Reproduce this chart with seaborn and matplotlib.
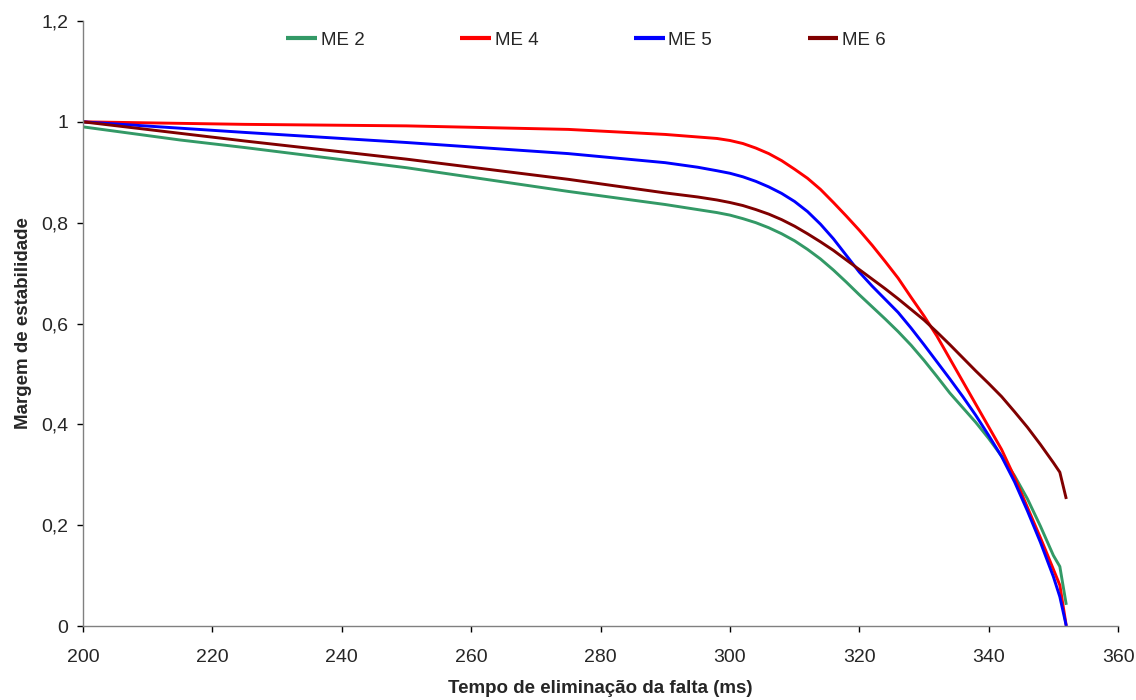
import numpy as np
import pandas as pd
import matplotlib
matplotlib.use("Agg")
import matplotlib.pyplot as plt
import seaborn as sns

# ---- data ----
x_me2 = [200, 215, 225, 250, 275, 290, 295, 298, 300, 302, 304, 306, 308, 310, 312, 314, 316, 318, 320, 322,
         324, 326, 328, 330, 332, 334, 336, 338, 340, 342, 344, 346, 348, 350, 351, 352]
y_me2 = [0.99, 0.964, 0.949, 0.909, 0.862, 0.836, 0.826, 0.820, 0.815, 0.808, 0.800, 0.790, 0.778, 0.764, 0.747,
         0.728, 0.706, 0.682, 0.657, 0.633, 0.609, 0.584, 0.557, 0.527, 0.495, 0.462, 0.433, 0.404, 0.372, 0.337,
         0.298, 0.252, 0.198, 0.140, 0.118, 0.042]

x_me4 = [200, 225, 250, 275, 290, 295, 298, 300, 302, 304, 306, 308, 310, 312, 314, 316, 318, 320, 322, 324,
         326, 328, 330, 332, 334, 336, 338, 340, 342, 344, 346, 348, 349, 351, 352]
y_me4 = [1.0, 0.995, 0.992, 0.985, 0.975, 0.970, 0.967, 0.963, 0.957, 0.948, 0.937, 0.923, 0.906, 0.888, 0.866,
         0.840, 0.813, 0.785, 0.755, 0.723, 0.690, 0.652, 0.615, 0.575, 0.530, 0.485, 0.440, 0.395, 0.350, 0.295,
         0.235, 0.175, 0.144, 0.081, 0.0]

x_me5 = [200, 225, 250, 275, 290, 295, 298, 300, 302, 304, 306, 308, 310, 312, 314, 316, 318, 320, 322, 324,
         326, 328, 330, 332, 334, 336, 338, 340, 342, 344, 346, 348, 350, 351, 352]
y_me5 = [1.0, 0.979, 0.959, 0.937, 0.919, 0.910, 0.903, 0.898, 0.891, 0.882, 0.871, 0.858, 0.842, 0.822, 0.797,
         0.768, 0.735, 0.702, 0.674, 0.648, 0.622, 0.591, 0.558, 0.524, 0.490, 0.455, 0.418, 0.378, 0.336, 0.286,
         0.228, 0.166, 0.098, 0.058, 0.0]

x_me6 = [200, 225, 250, 275, 290, 295, 298, 300, 302, 304, 306, 308, 310, 312, 314, 316, 318, 320, 322, 324,
         326, 328, 330, 332, 334, 336, 338, 340, 342, 344, 346, 348, 350, 351, 352]
y_me6 = [1.0, 0.962, 0.926, 0.886, 0.859, 0.851, 0.845, 0.840, 0.834, 0.826, 0.817, 0.806, 0.793, 0.778, 0.762,
         0.745, 0.726, 0.707, 0.688, 0.669, 0.649, 0.628, 0.607, 0.583, 0.558, 0.532, 0.506, 0.481, 0.455, 0.425,
         0.394, 0.360, 0.324, 0.305, 0.252]

series_names = ["ME 2", "ME 4", "ME 5", "ME 6"]
series_x = [x_me2, x_me4, x_me5, x_me6]
series_y = [y_me2, y_me4, y_me5, y_me6]
colors = {"ME 2": "#339966", "ME 4": "#FF0000", "ME 5": "#0000FF", "ME 6": "#800000"}

x_ticks = [200, 220, 240, 260, 280, 300, 320, 340, 360]
y_ticks = [0, 0.2, 0.4, 0.6, 0.8, 1.0, 1.2]
y_tick_labels = ["0", "0,2", "0,4", "0,6", "0,8", "1", "1,2"]

frames = []
for name, xs, ys in zip(series_names, series_x, series_y):
    frames.append(pd.DataFrame({"t": xs, "m": ys, "s": name}))
df = pd.concat(frames, ignore_index=True)

sns.set_style("ticks")
plt.rcParams["font.family"] = ["Liberation Sans", "DejaVu Sans"]

fig = plt.figure(figsize=(11.36, 7.0), dpi=100)
ax = fig.add_axes([0.0731, 0.1057, 0.9111, 0.8643])

sns.lineplot(data=df, x="t", y="m", hue="s", palette=colors, hue_order=series_names,
             sort=False, estimator=None, linewidth=2.1, ax=ax)
for ln in ax.get_lines():
    ln.set_solid_joinstyle("round")
    ln.set_solid_capstyle("butt")

ax.set_xlim(200, 360)
ax.set_ylim(0, 1.2)
ax.set_xticks(x_ticks)
ax.set_xticklabels([str(v) for v in x_ticks], fontsize=14)
ax.set_yticks(y_ticks)
ax.set_yticklabels(y_tick_labels, fontsize=14)
ax.tick_params(axis="both", direction="out", length=4.3, width=1, color="#000000")
ax.tick_params(axis="x", pad=12)
ax.tick_params(axis="y", pad=6.5)

for side in ["top", "right"]:
    ax.spines[side].set_visible(False)
for side in ["left", "bottom"]:
    ax.spines[side].set_color("#808080")
    ax.spines[side].set_linewidth(1)

ax.set_xlabel("Tempo de eliminação da falta (ms)", fontsize=13.5, fontweight="bold", labelpad=10.5)
ax.set_ylabel("Margem de estabilidade", fontsize=13.5, fontweight="bold", labelpad=6.5)

leg = ax.legend(loc="center", bbox_to_anchor=(0.486, 0.9686), ncol=4, frameon=False,
                fontsize=13.5, handlelength=1.64, handletextpad=0.2, columnspacing=5.1,
                borderaxespad=0, borderpad=0)
for line in leg.get_lines():
    line.set_linewidth(3)

fig.savefig("out.png", dpi=100)
